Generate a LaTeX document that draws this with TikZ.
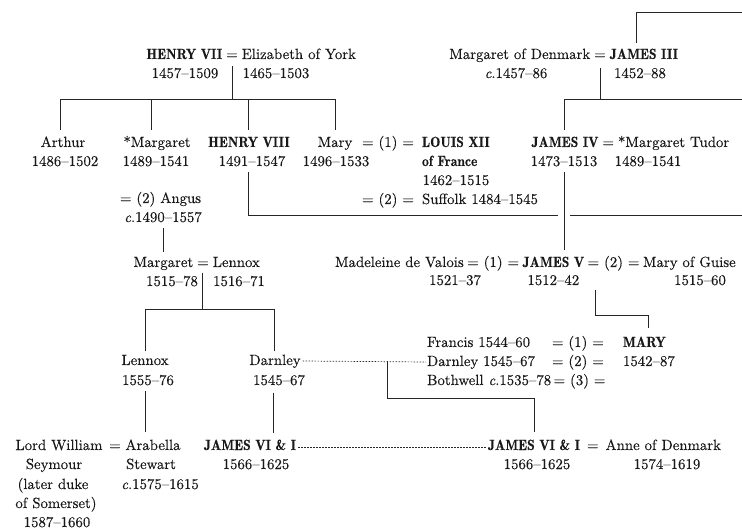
\documentclass[tikz,border=0pt]{standalone}
\usepackage{fontspec}
\setmainfont{lmroman10-regular.otf}[ItalicFont=lmroman10-italic.otf, BoldFont=lmromandemi10-regular.otf, FakeBold=0.25]
\newfontfamily\kingfont{lmromandemi10-regular.otf}[FakeStretch=0.92, FakeBold=0.2]
\tikzset{
  every node/.style={inner sep=0pt, outer sep=0pt},
  nm/.style={anchor=base, font=\fontsize{14.8}{19}\selectfont, text=black!90},
  kg/.style={anchor=base, font=\fontsize{14.8}{19}\kingfont, text=black!90},
  eqn/.style={nm, inner xsep=4pt},
  ln/.style={line width=0.8pt, draw=black!85},
  dl/.style={line width=0.7pt, draw=black!85, dash pattern=on 1.6pt off 1.4pt},
}
\begin{document}
\begin{tikzpicture}[x=1pt,y=-1pt]
\useasboundingbox (0,0) rectangle (742,529);

% ---------- Row A ----------
\node[eqn] (eqHE) at (232,59) {=};
\node[kg,anchor=base east] (henry7) at (eqHE.base west) {HENRY VII};
\node[nm,anchor=base west] (eliz) at (eqHE.base east) {Elizabeth of York};
\node[nm] (henry7d) at (185,78) {1457–1509};
\node[nm] (elizd) at (276,78) {1465–1503};

\node[eqn] (eqMJ) at (600,59) {=};
\node[nm,anchor=base east] (mdenm) at (eqMJ.base west) {Margaret of Denmark};
\node[kg,anchor=base west] (james3) at (eqMJ.base east) {JAMES III};
\node[nm] (mdenmd) at (516,78) {\textit{c}.1457–86};
\node[nm] (james3d) at (640,78) {1452–88};

% ---------- Row B ----------
\node[nm] (arthur) at (63,147) {Arthur};
\node[nm] (arthurd) at (65,166) {1486–1502};
\node[nm] (margt) at (157,147) {*Margaret};
\node[nm] (margtd) at (156,166) {1489–1541};
\node[kg] (henry8) at (249,147) {HENRY VIII};
\node[nm] (henry8d) at (252,166) {1491–1547};
\node[nm] (mary) at (335,147) {Mary};
\node[nm] (maryd) at (336,166) {1496–1533};
\node[nm] (eqML1) at (388,147) {= (1) =};
\node[kg,anchor=base west] (louis) at (422,147) {LOUIS XII};
\node[kg,anchor=base west] (louisb) at (422,166) {of France};
\node[nm] (louisd) at (456,185) {1462–1515};
\node[nm] (eqMS2) at (388,204) {= (2) =};
\node[nm,anchor=base west] (suffolk) at (422,204) {Suffolk 1484–1545};

\node[kg] (james4) at (565,147) {JAMES IV};
\node[eqn,anchor=base west] (eqJM) at (james4.base east) {=};
\node[nm,anchor=base west] (mtudor) at (eqJM.base east) {*Margaret Tudor};
\node[nm] (james4d) at (564,166) {1473–1513};
\node[nm] (mtudord) at (648,166) {1489–1541};

% ---------- Angus ----------
\node[nm,anchor=base west] (angus) at (120,203) {= (2) Angus};
\node[nm] (angusd) at (163,222) {\textit{c}.1490–1557};

% ---------- Row C ----------
\node[eqn] (eqMLx) at (203,267) {=};
\node[nm,anchor=base east] (margL) at (eqMLx.base west) {Margaret};
\node[nm,anchor=base west] (lennoxS) at (eqMLx.base east) {Lennox};
\node[nm] (margLd) at (172,286) {1515–78};
\node[nm] (lennoxSd) at (239,286) {1516–71};

\node[nm,anchor=base west] (madel) at (335,267) {Madeleine de Valois};
\node[nm,anchor=base west,inner xsep=3.5pt] (eqJV1) at (madel.base east) {= (1) =};
\node[kg,anchor=base west] (james5) at (eqJV1.base east) {JAMES V};
\node[nm,anchor=base west,inner xsep=3.5pt] (eqJV2) at (james5.base east) {= (2) =};
\node[nm,anchor=base west] (guise) at (eqJV2.base east) {Mary of Guise};
\node[nm] (madeld) at (455,285) {1521–37};
\node[nm] (james5d) at ([yshift=-18pt]james5.base) {1512–42};
\node[nm] (guised) at (700,285) {1515–60};

% ---------- Row D ----------
\node[nm] (lennox2) at (145,365) {Lennox};
\node[nm] (lennox2d) at (148,385) {1555–76};
\node[nm] (darnley) at (275,365) {Darnley};
\node[nm] (darnleyd) at (279,385) {1545–67};

\node[nm,anchor=base west] (francis) at (427,347) {Francis 1544–60};
\node[nm,anchor=base west] (eqF) at (552,347) {= (1) =};
\node[kg,anchor=base west] (maryQ) at (623,347) {MARY};
\node[nm,anchor=base west] (darnley2) at (427,366) {Darnley 1545–67};
\node[nm,anchor=base west] (eqD) at (552,366) {= (2) =};
\node[nm,anchor=base west] (maryQd) at (623,366) {1542–87};
\node[nm,anchor=base west] (bothwell) at (427,385) {Bothwell \textit{c}.1535–78};
\node[nm,anchor=base west] (eqB) at (bothwell.base east) {\,= (3) =};

% ---------- Row E ----------
\node[nm] (lordw) at (59,450) {Lord William};
\node[nm] (lordw2) at (54,469) {Seymour};
\node[nm] (lordw3) at (53,489) {(later duke};
\node[nm] (lordw4) at (56,508) {of Somerset)};
\node[nm] (lordwd) at (57,527) {1587–1660};
\node[nm] (eqLA) at (115,450) {=};
\node[nm] (arab) at (153,450) {Arabella};
\node[nm] (arab2) at (151,469) {Stewart};
\node[nm] (arabd) at (160,489) {\textit{c}.1575–1615};

\node[kg] (james6l) at (250,450) {JAMES VI \& I};
\node[nm] (james6ld) at (256,469) {1566–1625};

\node[kg] (james6r) at (534,450) {JAMES VI \& I};
\node[nm,anchor=base west,inner xsep=7pt] (eqJA) at (james6r.base east) {=};
\node[nm,anchor=base west] (anne) at (eqJA.base east) {Anne of Denmark};
\node[nm] (james6rd) at (537,469) {1566–1625};
\node[nm] (anned) at (667,469) {1574–1619};

% ---------- junction coordinates ----------
\coordinate (topR) at (743,12);
\coordinate (j3up) at (636,43);
\coordinate (h7a) at (232,66);
\coordinate (h7b) at (232,99);
\coordinate (cA1) at (60,130);
\coordinate (cA2) at (151,130);
\coordinate (cA3) at (248,130);
\coordinate (cA4) at (335,130);
\coordinate (barAL) at (60,99);
\coordinate (barAR) at (335,99);
\coordinate (j3a) at (600,68);
\coordinate (j3b) at (600,99);
\coordinate (j4top) at (564,130);
\coordinate (barBR) at (743,99);
\coordinate (j4a) at (564,172);
\coordinate (j5top) at (564,250);
\coordinate (h8a) at (248,172);
\coordinate (h8b) at (248,215);
\coordinate (h8c) at (558,215);
\coordinate (h8d) at (570,215);
\coordinate (h8e) at (743,215);
\coordinate (ang1) at (163,228);
\coordinate (ang2) at (163,252);
\coordinate (ml1) at (202,273);
\coordinate (ml2) at (202,309);
\coordinate (mlL) at (145,309);
\coordinate (mlR) at (274,309);
\coordinate (len1) at (145,351);
\coordinate (dar1) at (274,351);
\coordinate (j5a) at (595,290);
\coordinate (j5b) at (595,315);
\coordinate (mq1) at (648,315);
\coordinate (mq2) at (648,328);
\coordinate (len2a) at (145,391);
\coordinate (len2b) at (145,432);
\coordinate (dar2a) at (273,393);
\coordinate (dar2b) at (273,433);
\coordinate (dj) at (387,361);
\coordinate (dj2) at (534,398);
\coordinate (j6top) at (534,432);

% ---------- connectors ----------
\draw[ln] (j3up) |- (topR);
\draw[ln] (h7a) -- (h7b);
\draw[ln] (cA1) -- (barAL) -- (barAR) -- (cA4);
\draw[ln] (cA2) -- (cA2 |- barAL);
\draw[ln] (cA3) -- (cA3 |- barAL);
\draw[ln] (j3a) -- (j3b);
\draw[ln] (j4top) |- (barBR);
\draw[ln] (j4a) -- (j5top);
\draw[ln] (h8a) -- (h8b) -- (h8c);
\draw[ln] (h8d) -- (h8e);
\draw[ln] (ang1) -- (ang2);
\draw[ln] (ml1) -- (ml2);
\draw[ln] (len1) -- (mlL) -- (mlR) -- (dar1);
\draw[ln] (j5a) -- (j5b) -- (mq1) -- (mq2);
\draw[ln] (len2a) -- (len2b);
\draw[ln] (dar2a) -- (dar2b);
\draw[dl] ([shift={(2pt,4pt)}]darnley.base east) -- ([shift={(-1pt,4pt)}]darnley2.base west);
\draw[ln] (dj) |- (dj2) -- (j6top);
\draw[dl] ([shift={(2pt,3pt)}]james6l.base east) -- ([shift={(-2pt,3pt)}]james6r.base west);
\end{tikzpicture}
\end{document}
